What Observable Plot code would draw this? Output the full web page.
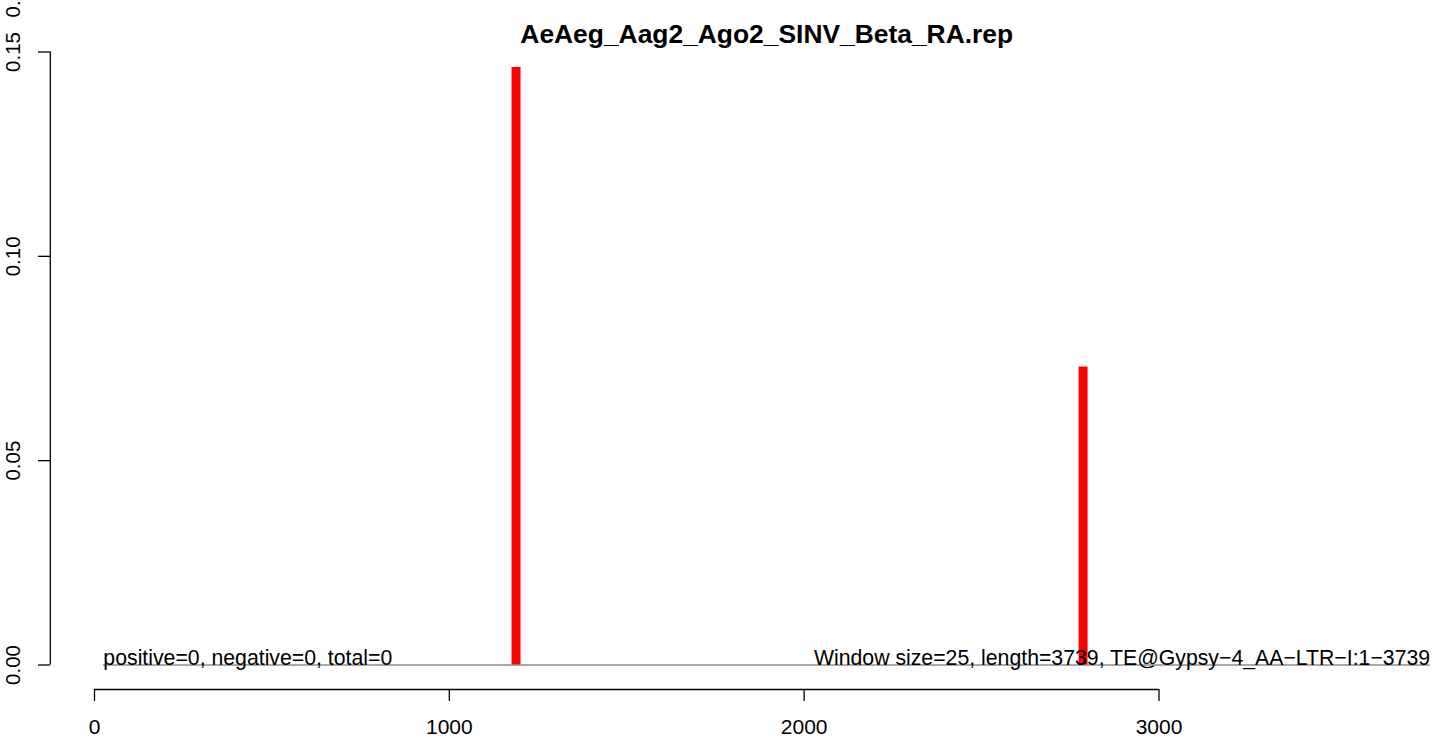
<!DOCTYPE html>
<html>
<head>
<meta charset="utf-8">
<script src="https://cdn.jsdelivr.net/npm/d3@7"></script>
<script src="https://cdn.jsdelivr.net/npm/@observablehq/plot@0.6"></script>
<style>
  html, body { margin: 0; padding: 0; background: #fff; }
  svg { display: block; font-family: "Liberation Sans", Arial, Helvetica, sans-serif; }
</style>
</head>
<body>
<div id="chart"></div>
<script>
// ---- data ----
const chartTitle = "AeAeg_Aag2_Ago2_SINV_Beta_RA.rep";
const positions = [1188, 2786];
const values = [0.1462, 0.0729];
const xTicks = [0, 1000, 2000, 3000];
const yTicks = [0.00, 0.05, 0.10, 0.15];
const windowStart = 25;
const windowEnd = 3764;
const statsLabel = "positive=0, negative=0, total=0";
const infoLabel = "Window size=25, length=3739, TE@Gypsy\u22124_AA\u2212LTR\u2212I:1\u22123739";
const clippedLabel = "0.20";

const bars = positions.map((p, i) => ({pos: p, val: values[i]}));
// R-style axis positions: 4% outside the data extent
const yAxisX = windowStart - 0.04 * (windowEnd - windowStart);
const xAxisY = yTicks[0] - 0.04 * yTicks[yTicks.length - 1];

const chart = Plot.plot({
  width: 1439,
  height: 740,
  marginTop: 0,
  marginLeft: 50,
  marginBottom: 51,
  marginRight: 0,
  style: {fontFamily: "Liberation Sans, Arial, Helvetica, sans-serif", background: "#fff", color: "#000"},
  x: {type: "linear", domain: [0, 3000], range: [94, 1158.5]},
  y: {type: "linear", domain: [0, 0.15], range: [664.5, 51.5]},
  marks: [
    // bars
    Plot.ruleX(bars, {x: "pos", y1: 0, y2: "val", stroke: "#ff0000", strokeWidth: 9}),
    // baseline
    Plot.ruleY([0], {x1: windowStart, x2: windowEnd, stroke: "#555555", strokeWidth: 1}),
    // texts on baseline
    Plot.text([statsLabel], {x: windowStart, y: 0, text: d => d, textAnchor: "start", lineAnchor: "bottom", fontSize: 21.25, fill: "#000"}),
    Plot.text([infoLabel], {x: windowEnd, y: 0, text: d => d, textAnchor: "end", lineAnchor: "bottom", fontSize: 21.25, fill: "#000"}),
    // x axis
    Plot.ruleY([xAxisY], {x1: xTicks[0], x2: xTicks[xTicks.length - 1], stroke: "#000", strokeWidth: 1.3}),
    Plot.axisX({ticks: xTicks, tickSize: 12, tickPadding: 18, fontSize: 21, tickFormat: d => String(d), stroke: "#000", strokeWidth: 1.3, label: null}),
    // y axis
    Plot.ruleX([yAxisX], {y1: yTicks[0], y2: yTicks[yTicks.length - 1], stroke: "#000", strokeWidth: 1.3}),
    Plot.axisY({ticks: yTicks, tickSize: 12, tickFormat: () => "", stroke: "#000", strokeWidth: 1.3, label: null}),
    Plot.text(yTicks, {x: yAxisX, y: d => d, text: d => d.toFixed(2), rotate: -90, dx: -37, fontSize: 20.5, fill: "#000"}),
    // clipped label at the very top
    Plot.text([clippedLabel], {frameAnchor: "top-left", text: d => d, textAnchor: "middle", lineAnchor: "middle", rotate: -90, dx: -37, dy: -3, fontSize: 20.5, fill: "#000"}),
    // title
    Plot.text([chartTitle], {x: (windowStart + windowEnd) / 2, frameAnchor: "top", text: d => d, lineAnchor: "top", dy: 24, fontSize: 26.4, fontWeight: "bold", fill: "#000"})
  ]
});
document.getElementById("chart").appendChild(chart);
</script>
</body>
</html>
